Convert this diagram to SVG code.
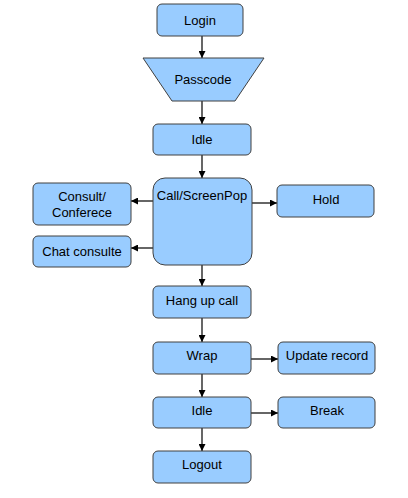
<svg xmlns="http://www.w3.org/2000/svg" width="408" height="498" viewBox="0 0 408 498">
<style>
.n{fill:#99ccff;stroke:#404040;stroke-width:1}
.t{font-family:"Liberation Sans",Arial,sans-serif;font-size:13px;fill:#000;text-anchor:middle}
.c{stroke:#000;stroke-width:1.2;fill:none;marker-end:url(#ah)}
</style>
<defs>
<marker id="ah" viewBox="0 0 10 10" refX="10" refY="5" markerWidth="7" markerHeight="7" markerUnits="userSpaceOnUse" orient="auto">
<path d="M0,0 L10,5 L0,10 z" fill="#000"/>
</marker>
</defs>
<rect width="408" height="498" fill="#fff"/>
<g id="connectors">
<line class="c" x1="202" y1="36" x2="202" y2="58"/>
<line class="c" x1="202" y1="101" x2="202" y2="124"/>
<line class="c" x1="202" y1="155" x2="202" y2="178"/>
<line class="c" x1="153" y1="201" x2="131" y2="201"/>
<line class="c" x1="153" y1="248" x2="131" y2="248"/>
<line class="c" x1="252" y1="203" x2="277" y2="203"/>
<line class="c" x1="202" y1="265" x2="202" y2="286"/>
<line class="c" x1="202" y1="318" x2="202" y2="342"/>
<line class="c" x1="251" y1="359" x2="278" y2="359"/>
<line class="c" x1="202" y1="374" x2="202" y2="397"/>
<line class="c" x1="251" y1="413" x2="278" y2="413"/>
<line class="c" x1="202" y1="428" x2="202" y2="451"/>
</g>
<g id="login"><rect class="n" x="157" y="4" width="86" height="32" rx="5"/><text class="t" x="200" y="25">Login</text></g>
<g id="passcode"><polygon class="n" points="143,58 264,58 235,101 172,101"/><text class="t" x="203" y="84">Passcode</text></g>
<g id="idle1"><rect class="n" x="153" y="124" width="98" height="31" rx="5"/><text class="t" x="202" y="144">Idle</text></g>
<g id="call"><rect class="n" x="153" y="178" width="99" height="87" rx="12"/><text class="t" x="202" y="200">Call/ScreenPop</text></g>
<g id="consult"><rect class="n" x="33" y="183" width="98" height="42" rx="5"/><text class="t" x="82" y="201">Consult/</text><text class="t" x="82" y="217">Conferece</text></g>
<g id="chat"><rect class="n" x="33" y="236" width="98" height="31" rx="5"/><text class="t" x="82" y="256">Chat consulte</text></g>
<g id="hold"><rect class="n" x="277" y="185" width="97" height="32" rx="5"/><text class="t" x="326" y="204">Hold</text></g>
<g id="hangup"><rect class="n" x="153" y="286" width="98" height="32" rx="5"/><text class="t" x="202" y="305">Hang up call</text></g>
<g id="wrap"><rect class="n" x="153" y="342" width="98" height="32" rx="5"/><text class="t" x="202" y="360">Wrap</text></g>
<g id="update"><rect class="n" x="278" y="342" width="97" height="32" rx="5"/><text class="t" x="327" y="360">Update record</text></g>
<g id="idle2"><rect class="n" x="153" y="397" width="98" height="31" rx="5"/><text class="t" x="202" y="415">Idle</text></g>
<g id="break"><rect class="n" x="278" y="397" width="97" height="31" rx="5"/><text class="t" x="327" y="415">Break</text></g>
<g id="logout"><rect class="n" x="153" y="451" width="98" height="32" rx="5"/><text class="t" x="202" y="469">Logout</text></g>
</svg>
